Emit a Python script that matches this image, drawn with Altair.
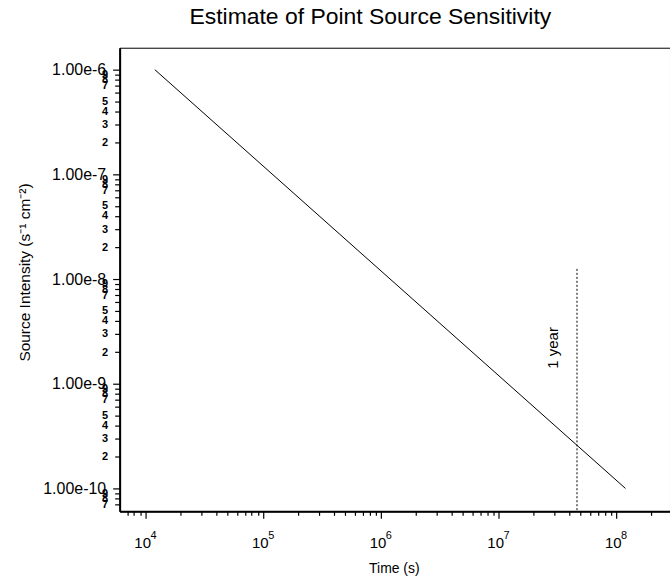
import altair as alt
import pandas as pd

# ---- data ----
time_s = [1.2e4, 1.2e8]
intensity = [1.0e-6, 1.0e-10]

year_time = [4.65e7]
year_top = [1.25e-8]

label_text = ["1 year"]
label_time = [2.93e7]
label_intensity = [2.2e-9]

x_major = [1e4, 1e5, 1e6, 1e7, 1e8]
x_exponents = ["4", "5", "6", "7", "8"]

x_domain = [6.03e3, 2.87e8]
y_domain = [6.04e-11, 1.62e-6]

x_decades = [3, 4, 5, 6, 7, 8]
y_decades = [-11, -10, -9, -8, -7, -6]
multipliers = [1, 2, 3, 4, 5, 6, 7, 8, 9]

FONT = "Liberation Sans"

x_ticks = [m * 10.0 ** d for d in x_decades for m in multipliers]
x_ticks = [v for v in x_ticks if x_domain[0] <= v <= x_domain[1]]
y_ticks = [m * 10.0 ** d for d in y_decades for m in multipliers]
y_ticks = [v for v in y_ticks if y_domain[0] <= v <= y_domain[1]]

major = "abs(log(datum.value)/LN10 - round(log(datum.value)/LN10)) < 1e-6"
digit = "round(datum.value / pow(10, floor(log(datum.value)/LN10 + 1e-6)))"

x_label_expr = f"{major} ? '10' : ''"
y_label_expr = f"{major} ? format(datum.value, '.2e') : ({digit} == 6 ? '' : toString({digit}))"

line_df = pd.DataFrame({"t": time_s, "s": intensity})
rule_df = pd.DataFrame({"t": year_time, "s": year_top, "s2": [y_domain[0]]})
text_df = pd.DataFrame({"t": label_time, "s": label_intensity, "txt": label_text})
exp_df = pd.DataFrame({"t": x_major, "s": [y_domain[0]] * len(x_major), "txt": x_exponents})

x_scale = alt.Scale(type="log", domain=x_domain, nice=False)
y_scale = alt.Scale(type="log", domain=y_domain, nice=False)

x_axis = alt.Axis(
    values=x_ticks,
    labelExpr=x_label_expr,
    labelOverlap=False,
    labelFlush=False,
    labelFont=FONT,
    labelFontSize=15,
    labelColor="black",
    labelAlign="right",
    labelOffset=5,
    labelPadding=17,
    tickSize={"condition": {"test": major, "value": 7}, "value": 4},
    tickColor="black",
    tickWidth=1.2,
    domainColor="black",
    domainWidth=2,
    grid=False,
    title="Time (s)",
    titleFont=FONT,
    titleFontSize=14,
    titleFontWeight="normal",
    titleColor="black",
    titleX=275,
    titleY=57,
    titleAlign="center",
    titleBaseline="middle",
)

y_axis = alt.Axis(
    values=y_ticks,
    labelExpr=y_label_expr,
    labelOverlap=False,
    labelFlush=False,
    labelFont=FONT,
    labelFontSize={"condition": {"test": major, "value": 16}, "value": 11},
    labelFontWeight={"condition": {"test": major, "value": "normal"}, "value": "bold"},
    labelColor="black",
    labelPadding=7,
    labelBaseline="middle",
    tickSize={"condition": {"test": major, "value": 7}, "value": 5},
    tickColor="black",
    tickWidth=1.2,
    domainColor="black",
    domainWidth=2,
    grid=False,
    title="Source Intensity (s\u207b\u00b9 cm\u207b\u00b2)",
    titleFont=FONT,
    titleFontSize=15.5,
    titleFontWeight="normal",
    titleColor="black",
    titleAngle=270,
    titleX=-95,
    titleY=225,
    titleAlign="center",
    titleBaseline="middle",
)

line = alt.Chart(line_df).mark_line(color="black", strokeWidth=1).encode(
    x=alt.X("t:Q", scale=x_scale, axis=x_axis),
    y=alt.Y("s:Q", scale=y_scale, axis=y_axis),
)

rule = alt.Chart(rule_df).mark_rule(color="black", strokeWidth=1, strokeDash=[2, 2]).encode(
    x=alt.X("t:Q", scale=x_scale),
    y=alt.Y("s:Q", scale=y_scale),
    y2="s2:Q",
)

text = alt.Chart(text_df).mark_text(
    angle=270, align="center", baseline="middle", font=FONT, fontSize=15, color="black"
).encode(
    x=alt.X("t:Q", scale=x_scale),
    y=alt.Y("s:Q", scale=y_scale),
    text="txt:N",
)

exponents = alt.Chart(exp_df).mark_text(
    align="left", baseline="middle", font=FONT, fontSize=11, color="black", dx=5, dy=25
).encode(
    x=alt.X("t:Q", scale=x_scale),
    y=alt.Y("s:Q", scale=y_scale),
    text="txt:N",
)

chart = (
    alt.layer(line, rule, text, exponents)
    .properties(
        width=552,
        height=465,
        autosize="none",
        padding={"left": 120, "top": 47, "right": 0, "bottom": 68},
        background="white",
        title=alt.TitleParams(
            "Estimate of Point Source Sensitivity",
            font=FONT,
            fontSize=23,
            fontWeight="normal",
            color="black",
            anchor="start",
            dx=172,
            offset=1,
            baseline="alphabetic",
        ),
    )
    .configure_view(stroke="black", strokeWidth=1)
)

chart.save("out.html", embed_options={"renderer": "svg", "actions": False})
